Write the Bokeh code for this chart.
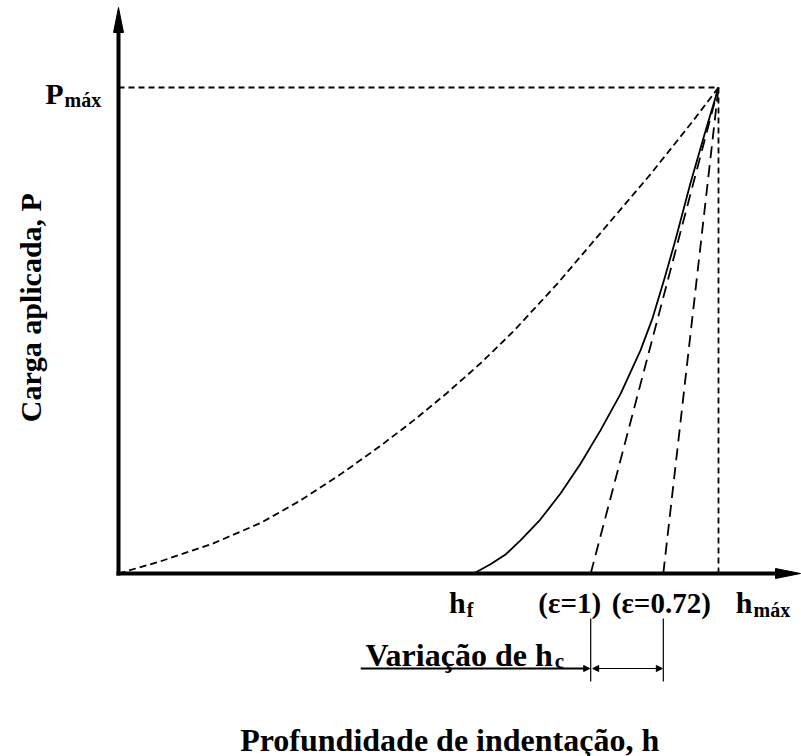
from math import pi

from bokeh.plotting import figure
from bokeh.models import Range1d, Label, Arrow, NormalHead
from bokeh.embed import file_html
from bokeh.resources import INLINE

# Load-depth curve of an indentation test, both quantities normalised (h/h_max, P/P_max)
load_h = [0.0, 0.07, 0.158, 0.237, 0.303, 0.37, 0.437, 0.492, 0.548, 0.603, 0.658, 0.732, 0.803, 0.887, 0.958, 1.0]
load_p = [0.0, 0.025, 0.062, 0.104, 0.150, 0.204, 0.263, 0.315, 0.372, 0.432, 0.498, 0.597, 0.700, 0.822, 0.932, 1.0]

unload_h = [0.592, 0.620, 0.645, 0.670, 0.703, 0.737, 0.770, 0.803, 0.837, 0.870, 0.890, 0.910, 0.928, 0.953, 0.977, 1.0]
unload_p = [0.0, 0.019, 0.039, 0.068, 0.111, 0.165, 0.226, 0.294, 0.370, 0.459, 0.525, 0.607, 0.685, 0.802, 0.905, 1.0]

# characteristic depths
H_F = 0.592       # residual depth
H_E1 = 0.787      # contact depth for epsilon = 1
H_E072 = 0.908    # contact depth for epsilon = 0.72
H_MAX = 1.0
P_MAX = 1.0

W, H = 801, 756
X0, Y0 = 118, 573      # canvas position of the origin
SX, SY = 600.0, 486.0  # pixels per unit on each axis

FONT = "Liberation Serif"
INK = "black"
LW = 1.8

p = figure(width=W, height=H, output_backend="svg", toolbar_location=None,
           x_range=Range1d(-X0 / SX, (W - X0) / SX),
           y_range=Range1d(-(H - Y0) / SY, Y0 / SY),
           min_border=0, outline_line_color=None)
p.axis.visible = False
p.grid.visible = False
p.background_fill_color = "white"
p.border_fill_color = "white"

# ---- axes with arrow heads -------------------------------------------
x_tip = (W - 1 - X0) / SX
y_tip = (Y0 - 7) / SY
head_len_x, head_len_y = 25 / SX, 25 / SY
half_w_x, half_w_y = 5 / SX, 5 / SY
p.line([0, 0], [-2 / SY, y_tip - head_len_y], line_color=INK, line_width=4)
p.patch([0, -half_w_x, half_w_x], [y_tip, y_tip - head_len_y, y_tip - head_len_y],
        fill_color=INK, line_color=INK)
p.line([-2 / SX, x_tip - head_len_x], [0, 0], line_color=INK, line_width=4)
p.patch([x_tip, x_tip - head_len_x, x_tip - head_len_x], [0, half_w_y, -half_w_y],
        fill_color=INK, line_color=INK)

# ---- guide lines to the peak --------------------------------------------
p.line([0, H_MAX], [P_MAX, P_MAX], line_color=INK, line_width=LW, line_dash="6 4")
p.line([H_MAX, H_MAX], [0, P_MAX], line_color=INK, line_width=LW, line_dash="6 4")

# ---- loading and unloading curves ---------------------------------------
p.line(load_h, load_p, line_color=INK, line_width=LW, line_dash="7 4", line_join="round")
p.line(unload_h, unload_p, line_color=INK, line_width=LW, line_join="round")

# ---- tangent lines for the two epsilon values ---------------------------
for h0 in (H_E1, H_E072):
    p.line([h0, H_MAX], [0, P_MAX], line_color=INK, line_width=LW, line_dash="12 7")

# ---- range of the contact depth ------------------------------------------
tick_top, tick_bot = -45 / SY, -108 / SY
bar_y = -95 / SY
for h0 in (H_E1, H_E072):
    p.line([h0, h0], [tick_top, tick_bot], line_color=INK, line_width=1.2)

p.add_layout(Arrow(end=NormalHead(size=6, fill_color=INK, line_color=INK),
                   x_start=H_E1 - 230 / SX, y_start=bar_y, x_end=H_E1 - 1 / SX, y_end=bar_y,
                   line_color=INK, line_width=2))
p.add_layout(Arrow(start=NormalHead(size=6, fill_color=INK, line_color=INK),
                   end=NormalHead(size=6, fill_color=INK, line_color=INK),
                   x_start=H_E1 + 2 / SX, y_start=bar_y, x_end=H_E072 - 1 / SX, y_end=bar_y,
                   line_color=INK, line_width=1.2))


def label(x, y, text, size, align="left", baseline="alphabetic", dx=0, dy=0, angle=0):
    p.add_layout(Label(x=x, y=y, text=text, x_offset=dx, y_offset=dy,
                       text_font=FONT, text_font_style="bold", text_font_size=f"{size}px",
                       text_color=INK, text_align=align, text_baseline=baseline, angle=angle))


MAIN, SUB = 30, 20

# P_max on the load axis
label(0, P_MAX, "P", MAIN, align="right", dx=-55, dy=-6)
label(0, P_MAX, "máx", SUB, align="left", dx=-54, dy=-12)

# depth marks under the depth axis
label(H_F, 0, "h", MAIN, align="right", dx=-8, dy=-29)
label(H_F, 0, "f", SUB, align="left", dx=-7, dy=-36)
label(H_E1, 0, "(ε=1)", 29, align="center", dx=-21, dy=-29)
label(H_E072, 0, "(ε=0.72)", 29, align="center", dx=-2, dy=-29)
label(H_MAX, 0, "h", MAIN, align="right", dx=34, dy=-29)
label(H_MAX, 0, "máx", SUB, align="left", dx=35, dy=-36)

# contact-depth range caption
label(H_E1, 0, "Variação de h", 32, align="right", dx=-38, dy=-81)
label(H_E1, 0, "c", 21, align="left", dx=-36, dy=-87)

# axis titles
label(0, 0.547, "Carga aplicada, P", MAIN, align="center", baseline="middle", dx=-88, angle=pi / 2)
label(0.552, 0, "Profundidade de indentação, h", 32, align="center", dy=-166)

open("out.html", "w").write(file_html(p, INLINE))
